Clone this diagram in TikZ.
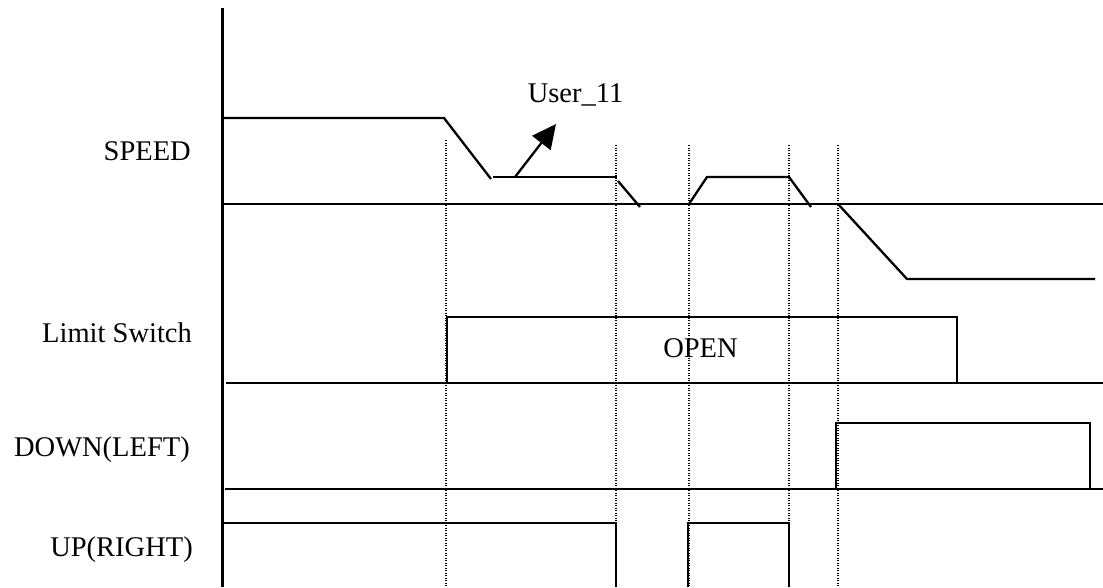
\documentclass[tikz,border=0pt]{standalone}
\usepackage{fontspec}
\setmainfont{Liberation Serif}
\usetikzlibrary{arrows.meta}
\begin{document}
\begin{tikzpicture}[x=1pt,y=-1pt,
  sig/.style={line width=2.3pt,line join=miter},
  guide/.style={line width=1.4pt,dash pattern=on 1.2pt off 1.3pt},
  lbl/.style={inner sep=0pt,font=\fontsize{28.5}{32}\selectfont,anchor=base east},
  txt/.style={inner sep=0pt,font=\fontsize{28.5}{32}\selectfont,anchor=base}]
\useasboundingbox (0,0) rectangle (1103,587);
% guides
\draw[guide] (446,140) -- (446,587);
\foreach \gx in {616,689,789,838} \draw[guide] (\gx,145) -- (\gx,587);
% axis
\draw[sig] (222.5,8) -- (222.5,587);
% labels
\node[lbl] (lspeed) at (191,160) {SPEED};
\node[lbl] (llimit) at (192,342) {Limit Switch};
\node[lbl] (ldown) at (190,456) {DOWN(LEFT)};
\node[lbl] (lup) at (193,556) {UP(RIGHT)};
% SPEED
\draw[sig] (222,204) -- (1103,204);
\draw[sig] (222,118) -- (444,118) -- (491,179);
\draw[sig] (493,177) -- (617,177);
\draw[sig] (618,181) -- (640,207);
\draw[sig] (689,204) -- (707,177) -- (789,177) -- (811,207);
\draw[sig] (838,204) -- (907,279) -- (1095,279);
\coordinate (abase) at (515,177);
\coordinate (atip) at (556,124);
\draw[sig,-{Triangle[length=24pt,width=23pt]}] (abase) -- (atip);
\node[txt] (user) at (575.5,102) {User\_11};
% Limit switch
\draw[sig] (226,383) -- (1103,383);
\draw[sig] (447,383) -- (447,317) -- (957,317) -- (957,383);
\node[txt] (open) at (700.5,357) {OPEN};
% DOWN(LEFT)
\draw[sig] (225,489) -- (1103,489);
\draw[sig] (836,489) -- (836,423) -- (1090,423) -- (1090,489);
% UP(RIGHT)
\draw[sig] (222,523) -- (616,523) -- (616,587);
\draw[sig] (688,587) -- (688,523) -- (789,523) -- (789,587);
\end{tikzpicture}
\end{document}
